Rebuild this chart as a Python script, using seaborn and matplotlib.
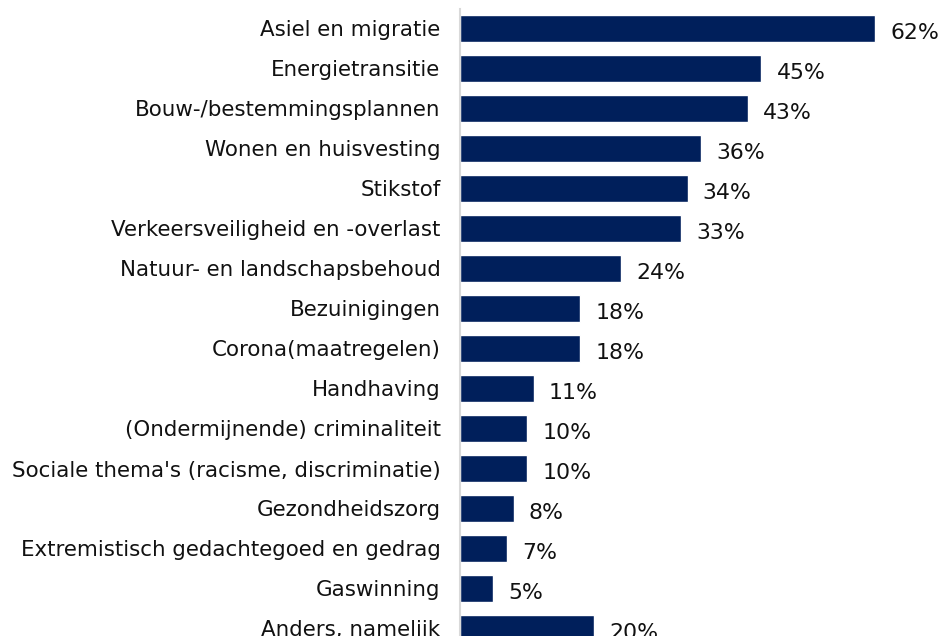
import pandas as pd
import seaborn as sns
import matplotlib.pyplot as plt

onderwerpen = [
    "Asiel en migratie",
    "Energietransitie",
    "Bouw-/bestemmingsplannen",
    "Wonen en huisvesting",
    "Stikstof",
    "Verkeersveiligheid en -overlast",
    "Natuur- en landschapsbehoud",
    "Bezuinigingen",
    "Corona(maatregelen)",
    "Handhaving",
    "(Ondermijnende) criminaliteit",
    "Sociale thema's (racisme, discriminatie)",
    "Gezondheidszorg",
    "Extremistisch gedachtegoed en gedrag",
    "Gaswinning",
    "Anders, namelijk",
]
percentages = [62, 45, 43, 36, 34, 33, 24, 18, 18, 11, 10, 10, 8, 7, 5, 20]

df = pd.DataFrame({"onderwerp": onderwerpen, "pct": percentages})

sns.set_style("white")
plt.rcParams["font.family"] = ["DejaVu Sans"]

fig = plt.figure(figsize=(9.42, 6.36), dpi=100)
# 40 px per rij, eerste balk midden op y=28.5 px
ax = fig.add_axes([460 / 942, (636 - 648.5) / 636, 470 / 942, 640 / 636])

sns.barplot(data=df, y="onderwerp", x="pct", orient="h", color="#001f5b",
            saturation=1, width=0.68, ax=ax)

ax.set_xlim(0, 470 / 6.694)
ax.set_ylim(15.5, -0.5)
ax.set_xlabel("")
ax.set_ylabel("")
ax.set_xticks([])
ax.tick_params(axis="y", length=0, pad=14, labelsize=15.4, labelcolor="#111111")

for kant in ["top", "right", "bottom"]:
    ax.spines[kant].set_visible(False)
ax.spines["left"].set_color("#d9d9d9")
ax.spines["left"].set_linewidth(1.5)

labels = ax.bar_label(ax.containers[0], labels=[f"{v}%" for v in percentages],
                      padding=11, fontsize=15.8, color="#111111")
# waarden staan iets lager dan het midden van de balk
for t in labels:
    t.xyann = (t.xyann[0], -3)

fig.savefig("out.png", dpi=100)
